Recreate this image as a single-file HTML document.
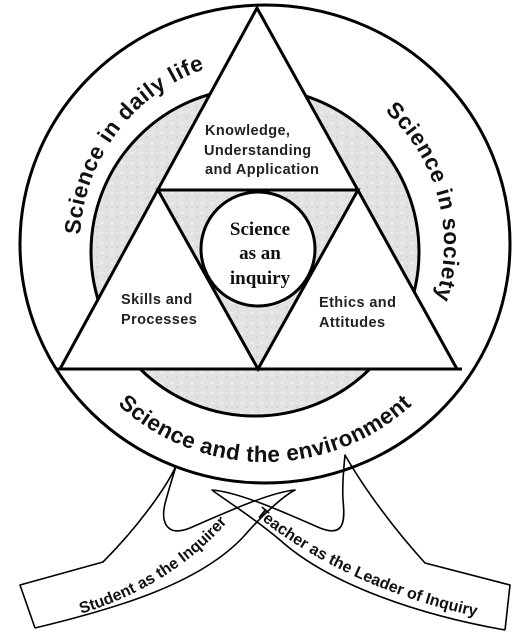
<!DOCTYPE html>
<html><head><meta charset="utf-8"><style>
html,body{margin:0;padding:0;background:#fff;}
svg{display:block;}
text{font-family:"Liberation Sans",Arial,sans-serif;}
</style></head><body>
<svg width="532" height="635" viewBox="0 0 532 635" xmlns="http://www.w3.org/2000/svg">
<defs>
<pattern id="tex" width="10" height="10" patternUnits="userSpaceOnUse">
<rect width="10" height="10" fill="#e2e2e2"/>
<circle cx="2" cy="3" r="1.3" fill="#efefef"/>
<circle cx="7" cy="7" r="1.1" fill="#d2d2d2"/>
</pattern>
<path id="pl" d="M 109.8 344.8 A 185 185 0 0 1 319.1 67.1"/>
<path id="pr" d="M 354.5 89 A 179 179 0 0 1 420 333.5"/>
<path id="pb" d="M 76.2 353.0 A 218 218 0 0 0 453.8 353.0"/>
<path id="ps" d="M 42 624 C 115 608 195 575 252 490"/>
<path id="pt" d="M 232 494 C 300 560 400 605 507 622"/>
</defs>
<ellipse cx="265" cy="244" rx="245" ry="239" fill="#fff" stroke="#000" stroke-width="3"/>
<circle cx="255" cy="252" r="164" fill="url(#tex)" stroke="#000" stroke-width="3"/>
<polygon points="257,8 60,369 457,369" fill="#fff" stroke="#000" stroke-width="3" stroke-linejoin="round"/>
<polygon points="158,190 358,190 258,369" fill="url(#tex)" stroke="#000" stroke-width="3"/>
<circle cx="258" cy="249" r="57" fill="#fff" stroke="#000" stroke-width="3"/>
<line x1="56" y1="369" x2="462" y2="369" stroke="#000" stroke-width="3"/>

<text font-size="14.5" font-weight="bold" letter-spacing="0.4" fill="#222"><tspan x="205" y="135">Knowledge,</tspan><tspan x="204" y="155">Understanding</tspan><tspan x="205" y="174">and Application</tspan></text>
<text font-size="14.5" font-weight="bold" letter-spacing="0.4" fill="#222"><tspan x="121" y="304">Skills and</tspan><tspan x="121" y="324">Processes</tspan></text>
<text font-size="14.5" font-weight="bold" letter-spacing="0.4" fill="#222"><tspan x="319" y="307">Ethics and</tspan><tspan x="319" y="327">Attitudes</tspan></text>
<text font-weight="bold" font-size="19" text-anchor="middle" fill="#111" style="font-family:'Liberation Serif',serif"><tspan x="260" y="235">Science</tspan><tspan x="260" y="259">as an</tspan><tspan x="260" y="284">inquiry</tspan></text>

<text font-size="22.5" font-weight="bold" letter-spacing="0.6" fill="#111"><textPath href="#pl" startOffset="50%" text-anchor="middle">Science in daily life</textPath></text>
<text font-size="22.5" font-weight="bold" letter-spacing="0.6" fill="#111"><textPath href="#pr" startOffset="50%" text-anchor="middle">Science in society</textPath></text>
<text font-size="22.5" font-weight="bold" letter-spacing="0.4" fill="#111"><textPath href="#pb" startOffset="50%" text-anchor="middle">Science and the environment</textPath></text>

<g fill="none" stroke="#000" stroke-width="1.6" stroke-linejoin="round">
<path d="M 35 628 C 110 610 200 585 245 535 C 265 512 285 495 295 490 C 270 492 220 515 190 528 C 165 538 160 520 166 500 C 170 485 175 470 176 466 C 165 490 135 530 103 562 L 20 585 L 35 628"/>
<path d="M 505 630 C 420 615 330 585 280 540 C 250 515 225 500 212 490 C 240 492 290 515 320 528 C 345 538 345 520 343 500 C 342 485 344 465 345 455 C 365 490 395 530 425 563 L 510 585 L 505 630"/>
</g>
<text font-size="16" font-weight="bold" fill="#111"><textPath href="#ps" startOffset="50%" text-anchor="middle">Student as the Inquirer</textPath></text>
<text font-size="16" font-weight="bold" fill="#111"><textPath href="#pt" startOffset="50%" text-anchor="middle">Teacher as the Leader of Inquiry</textPath></text>
</svg>
</body></html>
